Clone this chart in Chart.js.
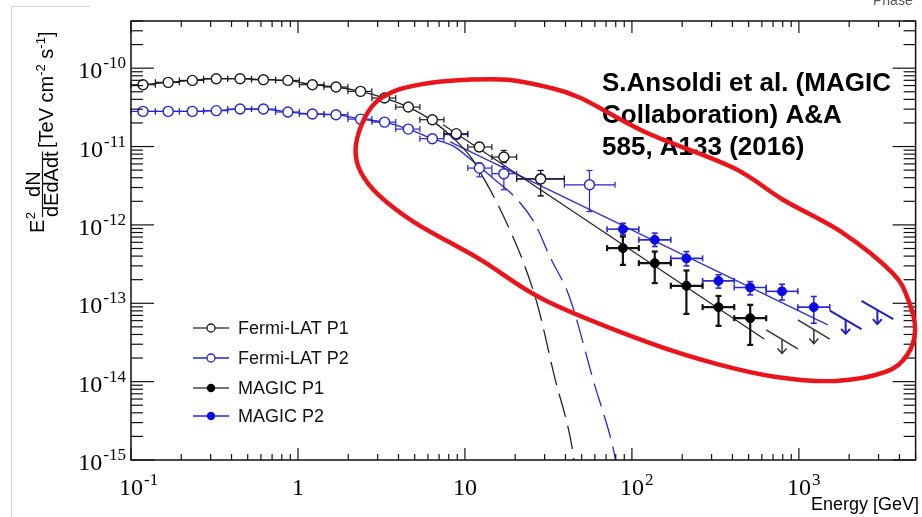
<!DOCTYPE html>
<html>
<head>
<meta charset="utf-8">
<script src="https://cdn.jsdelivr.net/npm/chart.js@4.4.1/dist/chart.umd.min.js"></script>
<style>
  html, body { margin: 0; padding: 0; background: #fff; }
  #wrap { width: 922px; height: 517px; position: relative; }
</style>
</head>
<body>
<div id="wrap"><canvas id="spec" width="922" height="517"></canvas></div>
<script>
/* ---- data (E in GeV, E^2 dN/dE in TeV cm^-2 s^-1) ---- */
const fermiEdges = [0.1, 0.140, 0.195, 0.272, 0.379, 0.527, 0.734, 1.02, 1.43, 1.99, 2.77, 3.85, 5.37, 7.48, 10.4, 14.5, 20.4, 39.4, 79.2];
const fermiE = [0.118, 0.167, 0.233, 0.324, 0.450, 0.621, 0.870, 1.22, 1.69, 2.37, 3.30, 4.58, 6.38, 8.87, 12.2, 17.1, 28.4, 55.7];

const fermiP1F  = [6.15e-11, 6.59e-11, 6.98e-11, 7.34e-11, 7.34e-11, 7.13e-11, 6.98e-11, 6.15e-11, 5.75e-11, 5.06e-11, 4.16e-11, 3.19e-11, 2.2e-11, 1.46e-11, 9.87e-12, 7.35e-12, 3.85e-12];
const fermiP1Lo = [null, null, null, null, null, null, null, null, null, null, null, null, null, null, 8.65e-12, 6.21e-12, 2.35e-12];
const fermiP1Hi = [null, null, null, null, null, null, null, null, null, null, null, null, null, null, 1.13e-11, 8.92e-12, 4.95e-12];

const fermiP2F  = [2.81e-11, 2.81e-11, 2.81e-11, 2.87e-11, 3.01e-11, 3.01e-11, 2.76e-11, 2.6e-11, 2.55e-11, 2.24e-11, 2.05e-11, 1.67e-11, 1.26e-11, 1.42e-11, 5.31e-12, 4.5e-12, 3.9e-12, 3.25e-12];
const fermiP2Lo = [null, null, null, null, null, null, null, null, null, null, null, null, null, null, 4.11e-12, 2.81e-12, 2.35e-12, 1.48e-12];
const fermiP2Hi = [null, null, null, null, null, null, null, null, null, null, null, null, null, null, 6.21e-12, 5.57e-12, 4.95e-12, 4.95e-12];

const magicEdges = [71.0, 110, 171, 265, 410, 637, 986, 1531, 2371, 3673];
const magicE = [88.3, 137, 212, 330, 511, 792, 1228];

const magicP1F  = [5.06e-13, 3.25e-13, 1.67e-13, 8.92e-14, 6.45e-14];
const magicP1Lo = [3.09e-13, 1.81e-13, 7.32e-14, 5.15e-14, 2.94e-14];
const magicP1Hi = [7.11e-13, 4.57e-13, 2.62e-13, 1.24e-13, 9.55e-14];

const magicP2F  = [8.83e-13, 6.45e-13, 3.74e-13, 1.93e-13, 1.59e-13, 1.42e-13, 8.92e-14];
const magicP2Lo = [7.48e-13, 5.3e-13, 3.0e-13, 1.56e-13, 1.28e-13, 1.1e-13, 5.57e-14];
const magicP2Hi = [1.05e-12, 7.86e-13, 4.57e-13, 2.31e-13, 1.89e-13, 1.75e-13, 1.22e-13];

// upper limits: bin [lo, hi] and the flux of the slanted bar at both ends
const ulP1Lo = [637, 986],   ulP1Hi = [986, 1531], ulP1FLo = [4.57e-14, 6.14e-14], ulP1FHi = [2.62e-14, 3.48e-14];
const ulP2Lo = [1531, 2371], ulP2Hi = [2371, 3673], ulP2FLo = [8.07e-14, 1.07e-13], ulP2FHi = [4.67e-14, 6.27e-14];

// power-law fits (solid)
const plP1E = [7.40, 620],  plP1F = [1.90e-11, 3.51e-14];
const plP2E = [8.15, 1489], plP2F = [1.15e-11, 5.3e-14];

// exponential cut-off fits (solid at low E, dashed above)
const ecplP1E = [0.118, 0.167, 0.233, 0.324, 0.450, 0.621, 0.870, 1.22, 1.69, 2.37, 3.30, 4.58, 6.37, 8.83, 10.9, 12.8, 14.9, 18.0, 22.1, 27.2, 34.4, 43.9, 45.5];
const ecplP1F = [6.15e-11, 6.59e-11, 6.98e-11, 7.34e-11, 7.34e-11, 7.13e-11, 6.98e-11, 6.15e-11, 5.75e-11, 5.06e-11, 4.16e-11, 3.19e-11, 2.14e-11, 1.19e-11, 7.2e-12, 4.11e-12, 2.29e-12, 1.0e-12, 3.58e-13, 9.55e-14, 1.15e-14, 1.42e-15, 8e-16];
const ecplP2E = [0.118, 0.167, 0.233, 0.324, 0.450, 0.621, 0.870, 1.22, 1.69, 2.37, 3.30, 4.58, 6.37, 8.48, 10.9, 15.1, 20.1, 26.1, 32.5, 42.2, 58.6, 79.2, 82];
const ecplP2F = [2.81e-11, 2.81e-11, 2.81e-11, 2.87e-11, 3.01e-11, 3.01e-11, 2.76e-11, 2.6e-11, 2.55e-11, 2.24e-11, 2.05e-11, 1.67e-11, 1.26e-11, 1.02e-11, 6.78e-12, 3.77e-12, 2.22e-12, 1.06e-12, 3.8e-13, 1.21e-13, 1.05e-14, 1.09e-15, 7e-16];

// hand-drawn red loop, in log10 units of (E, flux)
const ringLogE = [0.345, 0.381, 0.464, 0.601, 0.798, 1.018, 1.256, 1.482, 1.690, 2.089, 2.607, 2.905, 3.262, 3.560, 3.655, 3.696, 3.649, 3.518, 3.220, 2.863, 2.506, 2.089, 1.476, 1.095, 0.702, 0.482, 0.375];
const ringLogF = [-11.041, -10.722, -10.441, -10.275, -10.185, -10.147, -10.147, -10.236, -10.377, -10.824, -11.271, -11.679, -12.101, -12.612, -12.957, -13.34, -13.659, -13.876, -13.991, -13.94, -13.774, -13.493, -12.957, -12.446, -11.973, -11.616, -11.322];

const xTickVals = [0.1, 1, 10, 100, 1000];
const xTickBase = ['10', '1', '10', '10', '10'];
const xTickExp  = ['-1', '', '', '2', '3'];
const yTickVals = [1e-10, 1e-11, 1e-12, 1e-13, 1e-14, 1e-15];
const yTickExp  = ['-10', '-11', '-12', '-13', '-14', '-15'];

const noteLines = ['S.Ansoldi et al. (MAGIC', 'Collaboration) A&A', '585, A133 (2016)'];

/* ---- styles ---- */
const BLACK = '#1c1c1c', BLUE = '#2626c6', BLUE_PT = '#0b0be8', RED = '#e8161c';
const SANS = "'Liberation Sans', Arial, sans-serif";
const SERIF = "'Liberation Serif', 'Times New Roman', serif";

const pts = (xs, ys) => ys.map((y, i) => ({ x: xs[i], y }));

function errs(edges, lo, hi) {
  return { elo: edges.slice(0, lo.length), ehi: edges.slice(1, lo.length + 1), flo: lo, fhi: hi };
}

function seg(ctx, x1, y1, x2, y2) { ctx.beginPath(); ctx.moveTo(x1, y1); ctx.lineTo(x2, y2); ctx.stroke(); }

/* ---- plugin: error bars, drawn just before each point dataset ---- */
const errorBars = {
  id: 'errorBars',
  beforeDatasetDraw(chart, args) {
    const ds = chart.data.datasets[args.index];
    if (!ds.err) return;
    const { ctx, scales: { x, y } } = chart;
    const e = ds.err;
    ctx.save();
    ctx.strokeStyle = ds.errColor; ctx.lineWidth = ds.errWidth;
    ds.data.forEach((p, i) => {
      const px = x.getPixelForValue(p.x), py = y.getPixelForValue(p.y);
      const a = x.getPixelForValue(e.elo[i]), b = x.getPixelForValue(e.ehi[i]);
      seg(ctx, a, py, b, py); seg(ctx, a, py - 3, a, py + 3); seg(ctx, b, py - 3, b, py + 3);
      if (e.flo[i] != null) {
        const t = y.getPixelForValue(e.fhi[i]), u = y.getPixelForValue(e.flo[i]);
        seg(ctx, px, t, px, u); seg(ctx, px - 3, t, px + 3, t); seg(ctx, px - 3, u, px + 3, u);
      }
    });
    ctx.restore();
  }
};

/* ---- plugin: decorations, ULs, axes, labels, legend, red loop ---- */
function upperLimits(chart, lo, hi, flo, fhi, color, w) {
  const { ctx, scales: { x, y } } = chart;
  ctx.save(); ctx.strokeStyle = color; ctx.lineWidth = w;
  lo.forEach((e, i) => {
    const x1 = x.getPixelForValue(e), x2 = x.getPixelForValue(hi[i]);
    const y1 = y.getPixelForValue(flo[i]), y2 = y.getPixelForValue(fhi[i]);
    seg(ctx, x1, y1, x2, y2);
    const mx = (x1 + x2) / 2, my = (y1 + y2) / 2;
    seg(ctx, mx, my, mx, my + 14);
    ctx.beginPath(); ctx.moveTo(mx - 4.5, my + 9); ctx.lineTo(mx, my + 14); ctx.lineTo(mx + 4.5, my + 9); ctx.stroke();
  });
  ctx.restore();
}

function powLabel(ctx, base, exp, px, baseY, align) {
  ctx.font = '24px ' + SERIF;
  const wb = ctx.measureText(base).width;
  ctx.font = '17px ' + SERIF;
  const we = exp ? ctx.measureText(exp).width + 1 : 0;
  let x0;
  if (align === 'right') x0 = px - wb - we;
  else x0 = px - wb / 2;
  ctx.textAlign = 'left'; ctx.textBaseline = 'alphabetic';
  ctx.font = '24px ' + SERIF; ctx.fillText(base, x0, baseY);
  if (exp) { ctx.font = '17px ' + SERIF; ctx.fillText(exp, x0 + wb + 1, baseY - 10); }
}

const frame = {
  id: 'frame',
  beforeDatasetsDraw(chart) {
    const { ctx } = chart;
    ctx.save();
    // screenshot edges
    ctx.strokeStyle = '#d4d4d4'; ctx.lineWidth = 1;
    seg(ctx, 11.5, 7, 11.5, 517); seg(ctx, 11, 6.5, 90, 6.5);
    ctx.fillStyle = '#555'; ctx.font = '14px ' + SANS; ctx.fillText('Phase', 873, 5);
    // citation
    ctx.fillStyle = '#000'; ctx.font = 'bold 26px ' + SANS; ctx.textAlign = 'left';
    noteLines.forEach((t, i) => ctx.fillText(t, 602, 91 + i * 32));
    ctx.restore();
    upperLimits(chart, ulP1Lo, ulP1Hi, ulP1FLo, ulP1FHi, '#333', 1.5);
    upperLimits(chart, ulP2Lo, ulP2Hi, ulP2FLo, ulP2FHi, '#1f1fc0', 2);
  },
  afterDatasetsDraw(chart) {
    const { ctx, chartArea: a, scales: { x, y } } = chart;
    ctx.save();
    ctx.strokeStyle = '#111'; ctx.lineWidth = 1.5;
    ctx.strokeRect(a.left, a.top, a.right - a.left, a.bottom - a.top);
    ctx.lineWidth = 1.2;
    for (let d = -1; d <= 3; d++) for (let m = 1; m <= 9; m++) {
      const v = m * Math.pow(10, d);
      if (v > x.max) continue;
      const px = x.getPixelForValue(v), L = m === 1 ? 12 : 6;
      seg(ctx, px, a.bottom, px, a.bottom - L); seg(ctx, px, a.top, px, a.top + L);
    }
    for (let d = -15; d <= -10; d++) for (let m = 1; m <= 9; m++) {
      const v = m * Math.pow(10, d);
      if (v > y.max * 1.0001) continue;
      const py = y.getPixelForValue(v), L = m === 1 ? 23 : 12;
      seg(ctx, a.left, py, a.left + L, py); seg(ctx, a.right, py, a.right - L, py);
    }
    // tick labels
    ctx.fillStyle = '#000';
    xTickVals.forEach((v, i) => powLabel(ctx, xTickBase[i], xTickExp[i], x.getPixelForValue(v), 495, 'center'));
    yTickVals.forEach((v, i) => powLabel(ctx, '10', yTickExp[i], a.left - 5, y.getPixelForValue(v) + 10, 'right'));
    // x title
    ctx.font = '18px ' + SANS; ctx.textAlign = 'right';
    ctx.fillText('Energy [GeV]', 919, 510);
    // y title, rotated: fillText(str, -screenY, screenX)
    ctx.textAlign = 'left';
    ctx.rotate(-Math.PI / 2);
    ctx.font = '20px ' + SANS;
    const wE = ctx.measureText('E').width;
    ctx.fillText('E', -233, 44);
    ctx.font = '13px ' + SANS; ctx.fillText('2', -233 + wE + 0.5, 35);
    ctx.font = '20px ' + SANS;
    const den = 'dEdAdt', wd = ctx.measureText(den).width, wn = ctx.measureText('dN').width;
    const f0 = -217, fc = f0 + wd / 2;
    ctx.fillText(den, f0, 58);
    ctx.fillText('dN', fc - wn / 2, 39.5);
    ctx.lineWidth = 1.2; seg(ctx, f0, 42.5, f0 + wd, 42.5);
    let u = -148;
    const put = (s, sz, v) => { ctx.font = sz + 'px ' + SANS; ctx.fillText(s, u, v); u += ctx.measureText(s).width; };
    put('[TeV cm', 20, 53); put('-2', 13, 45); put(' s', 20, 53); put('-1', 13, 45); put(']', 20, 53);
    ctx.setTransform(1, 0, 0, 1, 0, 0);
    // legend
    const rows = [328, 358, 388, 416];
    chart.data.datasets.filter(d => d.legend).forEach((d, i) => {
      const ry = rows[i];
      ctx.strokeStyle = d.legendLine; ctx.lineWidth = 1.3; seg(ctx, 193, ry, 229, ry);
      ctx.beginPath(); ctx.arc(211, ry, d.legendR, 0, Math.PI * 2);
      ctx.fillStyle = d.pointBackgroundColor; ctx.fill();
      ctx.strokeStyle = d.borderColor; ctx.lineWidth = 1.3; ctx.stroke();
      ctx.fillStyle = '#111'; ctx.font = '18px ' + SANS; ctx.textAlign = 'left';
      ctx.fillText(d.label, 238, ry + 6);
    });
    // red loop (closed Catmull-Rom through the read points)
    const P = ringLogE.map((le, i) => [x.getPixelForValue(Math.pow(10, le)), y.getPixelForValue(Math.pow(10, ringLogF[i]))]);
    const n = P.length;
    ctx.strokeStyle = RED; ctx.lineWidth = 4.5; ctx.lineJoin = 'round';
    ctx.beginPath(); ctx.moveTo(P[0][0], P[0][1]);
    for (let i = 0; i < n; i++) {
      const p0 = P[(i - 1 + n) % n], p1 = P[i], p2 = P[(i + 1) % n], p3 = P[(i + 2) % n];
      ctx.bezierCurveTo(p1[0] + (p2[0] - p0[0]) / 6, p1[1] + (p2[1] - p0[1]) / 6,
                        p2[0] - (p3[0] - p1[0]) / 6, p2[1] - (p3[1] - p1[1]) / 6, p2[0], p2[1]);
    }
    ctx.closePath(); ctx.stroke();
    ctx.restore();
  }
};

const lineDs = (data, color, w, extra) => Object.assign({
  data, showLine: true, borderColor: color, borderWidth: w, pointRadius: 0, fill: false, order: 5
}, extra || {});

new Chart(document.getElementById('spec').getContext('2d'), {
  type: 'scatter',
  data: {
    datasets: [
      { label: 'Fermi-LAT P1', data: pts(fermiE, fermiP1F), showLine: false, pointRadius: 5, pointBorderWidth: 1.4,
        borderColor: BLACK, pointBackgroundColor: '#fff', order: 2,
        err: errs(fermiEdges, fermiP1Lo, fermiP1Hi), errColor: BLACK, errWidth: 1.2,
        legend: true, legendLine: '#444', legendR: 4 },
      { label: 'Fermi-LAT P2', data: pts(fermiE, fermiP2F), showLine: false, pointRadius: 5, pointBorderWidth: 1.4,
        borderColor: BLUE, pointBackgroundColor: '#fff', order: 2,
        err: errs(fermiEdges, fermiP2Lo, fermiP2Hi), errColor: BLUE, errWidth: 1.2,
        legend: true, legendLine: BLUE, legendR: 4 },
      { label: 'MAGIC P1', data: pts(magicE, magicP1F), showLine: false, pointRadius: 4.5, pointBorderWidth: 1,
        borderColor: '#000', pointBackgroundColor: '#000', order: 1,
        err: errs(magicEdges, magicP1Lo, magicP1Hi), errColor: '#111', errWidth: 2.2,
        legend: true, legendLine: '#444', legendR: 3.5 },
      { label: 'MAGIC P2', data: pts(magicE, magicP2F), showLine: false, pointRadius: 4.5, pointBorderWidth: 1,
        borderColor: BLUE_PT, pointBackgroundColor: BLUE_PT, order: 1,
        err: errs(magicEdges, magicP2Lo, magicP2Hi), errColor: '#2a2ad0', errWidth: 1.6,
        legend: true, legendLine: BLUE, legendR: 3.5 },
      lineDs(pts(ecplP1E, ecplP1F), '#222', 1.3, { cubicInterpolationMode: 'monotone',
        segment: { borderDash: c => c.p0.parsed.x >= 12.5 ? [24, 9] : undefined } }),
      lineDs(pts(ecplP2E, ecplP2F), BLUE, 1.3, { cubicInterpolationMode: 'monotone',
        segment: { borderDash: c => c.p0.parsed.x >= 15 ? [24, 9] : undefined } }),
      lineDs(pts(plP1E, plP1F), '#222', 1.2),
      lineDs(pts(plP2E, plP2F), '#3434c8', 1.4)
    ]
  },
  options: {
    responsive: false,
    animation: false,
    devicePixelRatio: 1,
    layout: { padding: { left: 131, right: 1, top: 21, bottom: 57 } },
    scales: {
      x: { type: 'logarithmic', min: 0.1, max: 5000, display: false },
      y: { type: 'logarithmic', min: 1e-15, max: 4e-10, display: false }
    },
    plugins: { legend: { display: false }, tooltip: { enabled: false } }
  },
  plugins: [errorBars, frame]
});
</script>
</body>
</html>
